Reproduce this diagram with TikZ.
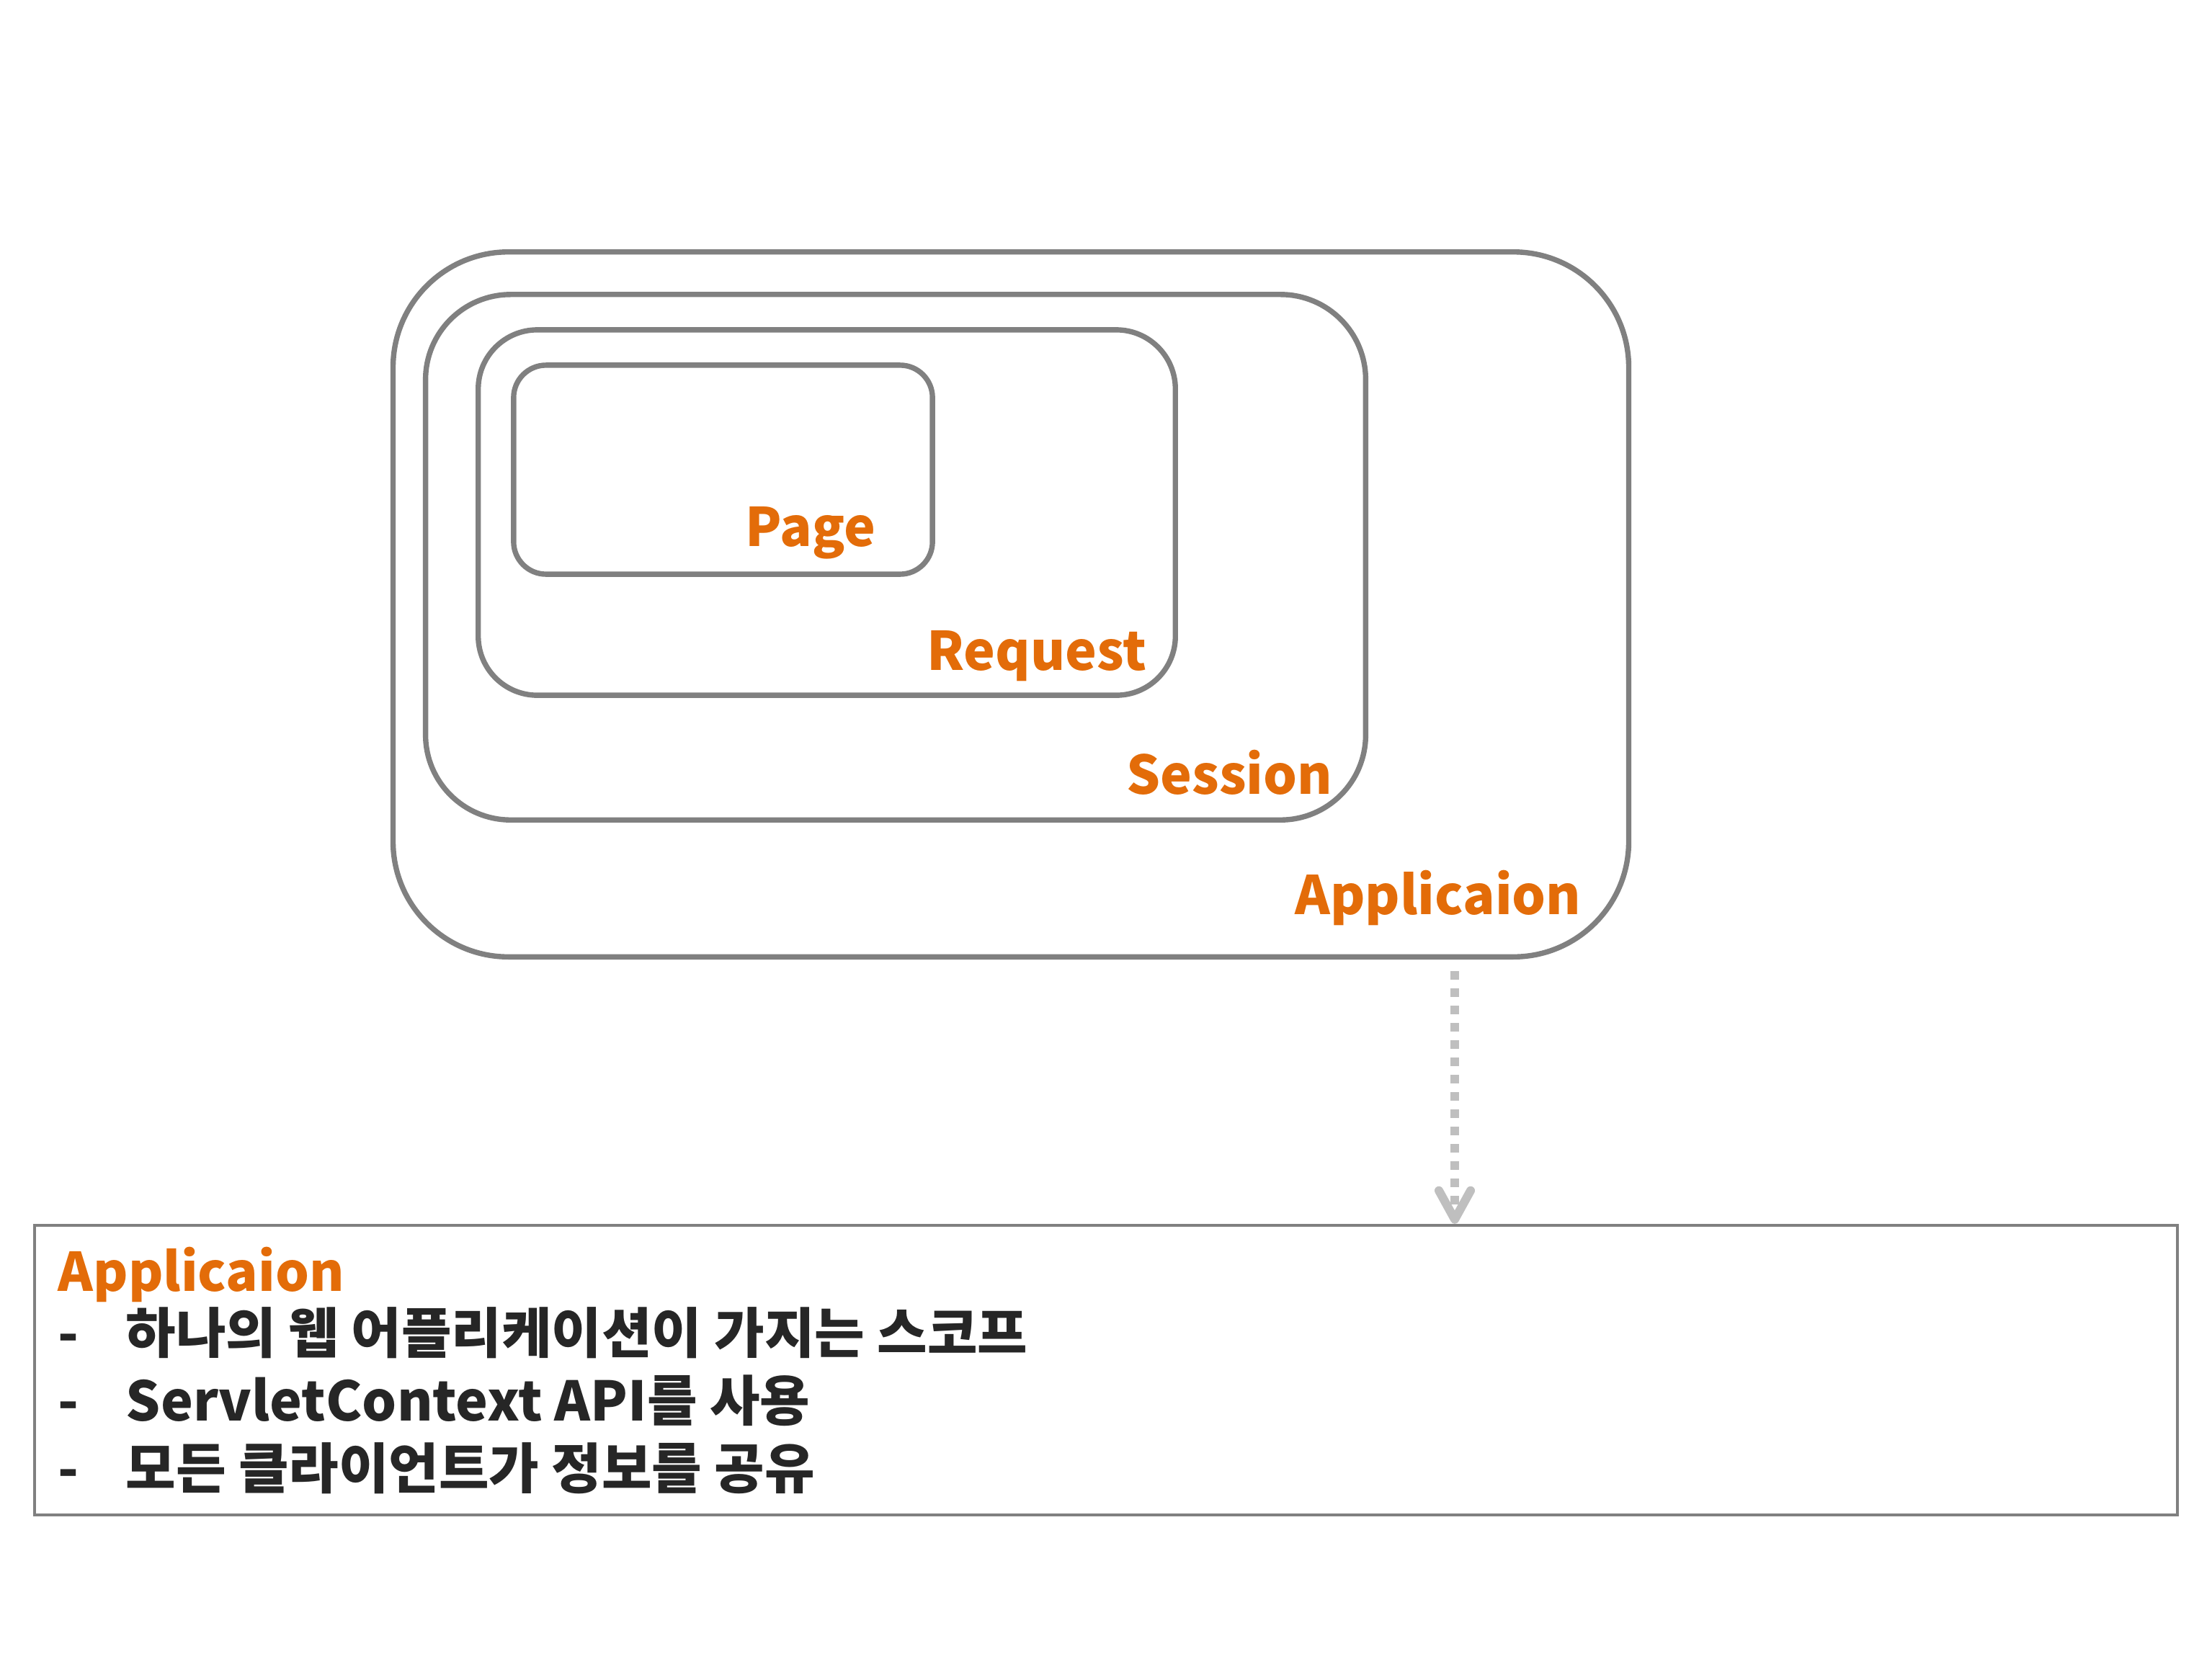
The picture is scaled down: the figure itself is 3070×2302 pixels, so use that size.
\documentclass[tikz,border=0pt]{standalone}
\usepackage{fontspec}
\setmainfont{Noto Sans CJK KR}
\usetikzlibrary{positioning,arrows.meta,calc}
\definecolor{cGray}{HTML}{808080}
\definecolor{cLight}{HTML}{BFBFBF}
\definecolor{cOrange}{HTML}{E36C09}
\definecolor{cText}{HTML}{262626}
\tikzset{
	scopebox/.style={draw=cGray, line width=2.1pt, rounded corners=#1, inner sep=0pt},
	scopelabel/.style={anchor=base east, inner sep=0pt, font=\fontsize{21}{25}\selectfont\bfseries, text=cOrange},
	descline/.style={anchor=base west, inner sep=0pt, font=\fontsize{21.5}{25}\selectfont\bfseries, text=cText},
	dotarr/.style={-{Straight Barb[length=0.4cm,width=0.44cm,round]}, line width=0.12cm, color=cLight,
		dash pattern=on 0.12cm off 0.12cm},
}

\begin{document}
\begin{tikzpicture}[x=0.01cm,y=-0.01cm]
	\useasboundingbox (0,0) rectangle (3070,2302);
	% nested scopes
	\node[scopebox=1.6cm, minimum width=17.14cm, minimum height=9.78cm] (app) at (1403,839) {};
	\node[scopebox=1.18cm, minimum width=13.04cm, minimum height=7.29cm] (session) at (1243,773.5) {};
	\node[scopebox=0.82cm, minimum width=9.67cm, minimum height=5.07cm] (request) at (1147.5,711.5) {};
	\node[scopebox=0.45cm, minimum width=5.81cm, minimum height=2.90cm] (page) at (1003.5,652) {};
	\node[scopelabel] (pageL) at (1216,758) {Page};
	\node[scopelabel] (requestL) at (1592,930) {Request};
	\node[scopelabel] (sessionL) at (1850,1102) {Session};
	\node[scopelabel] (appL) at (2195,1269) {Applicaion};
	% description
	\node[draw=cGray, line width=1.2pt, inner sep=0pt, minimum width=29.72cm, minimum height=4.02cm] (desc) at (1535,1902) {};
	\node[scopelabel, anchor=base west] (descT) at (80,1792) {Applicaion};
	\foreach \y/\t [count=\i] in {1878/하나의 웹 어플리케이션이 가지는 스코프, 1972/ServletContext API를 사용, 2066/모든 클라이언트가 정보를 공유} {
		\node[descline] (dash\i) at (80,\y) {-};
		\node[descline] (line\i) at (174,\y) {\t};
	}
	\coordinate (arrX) at (2019,0);
	\draw[dotarr, shorten <=0.16cm] (app.south -| arrX) -- (desc.north -| arrX);
\end{tikzpicture}
\end{document}
